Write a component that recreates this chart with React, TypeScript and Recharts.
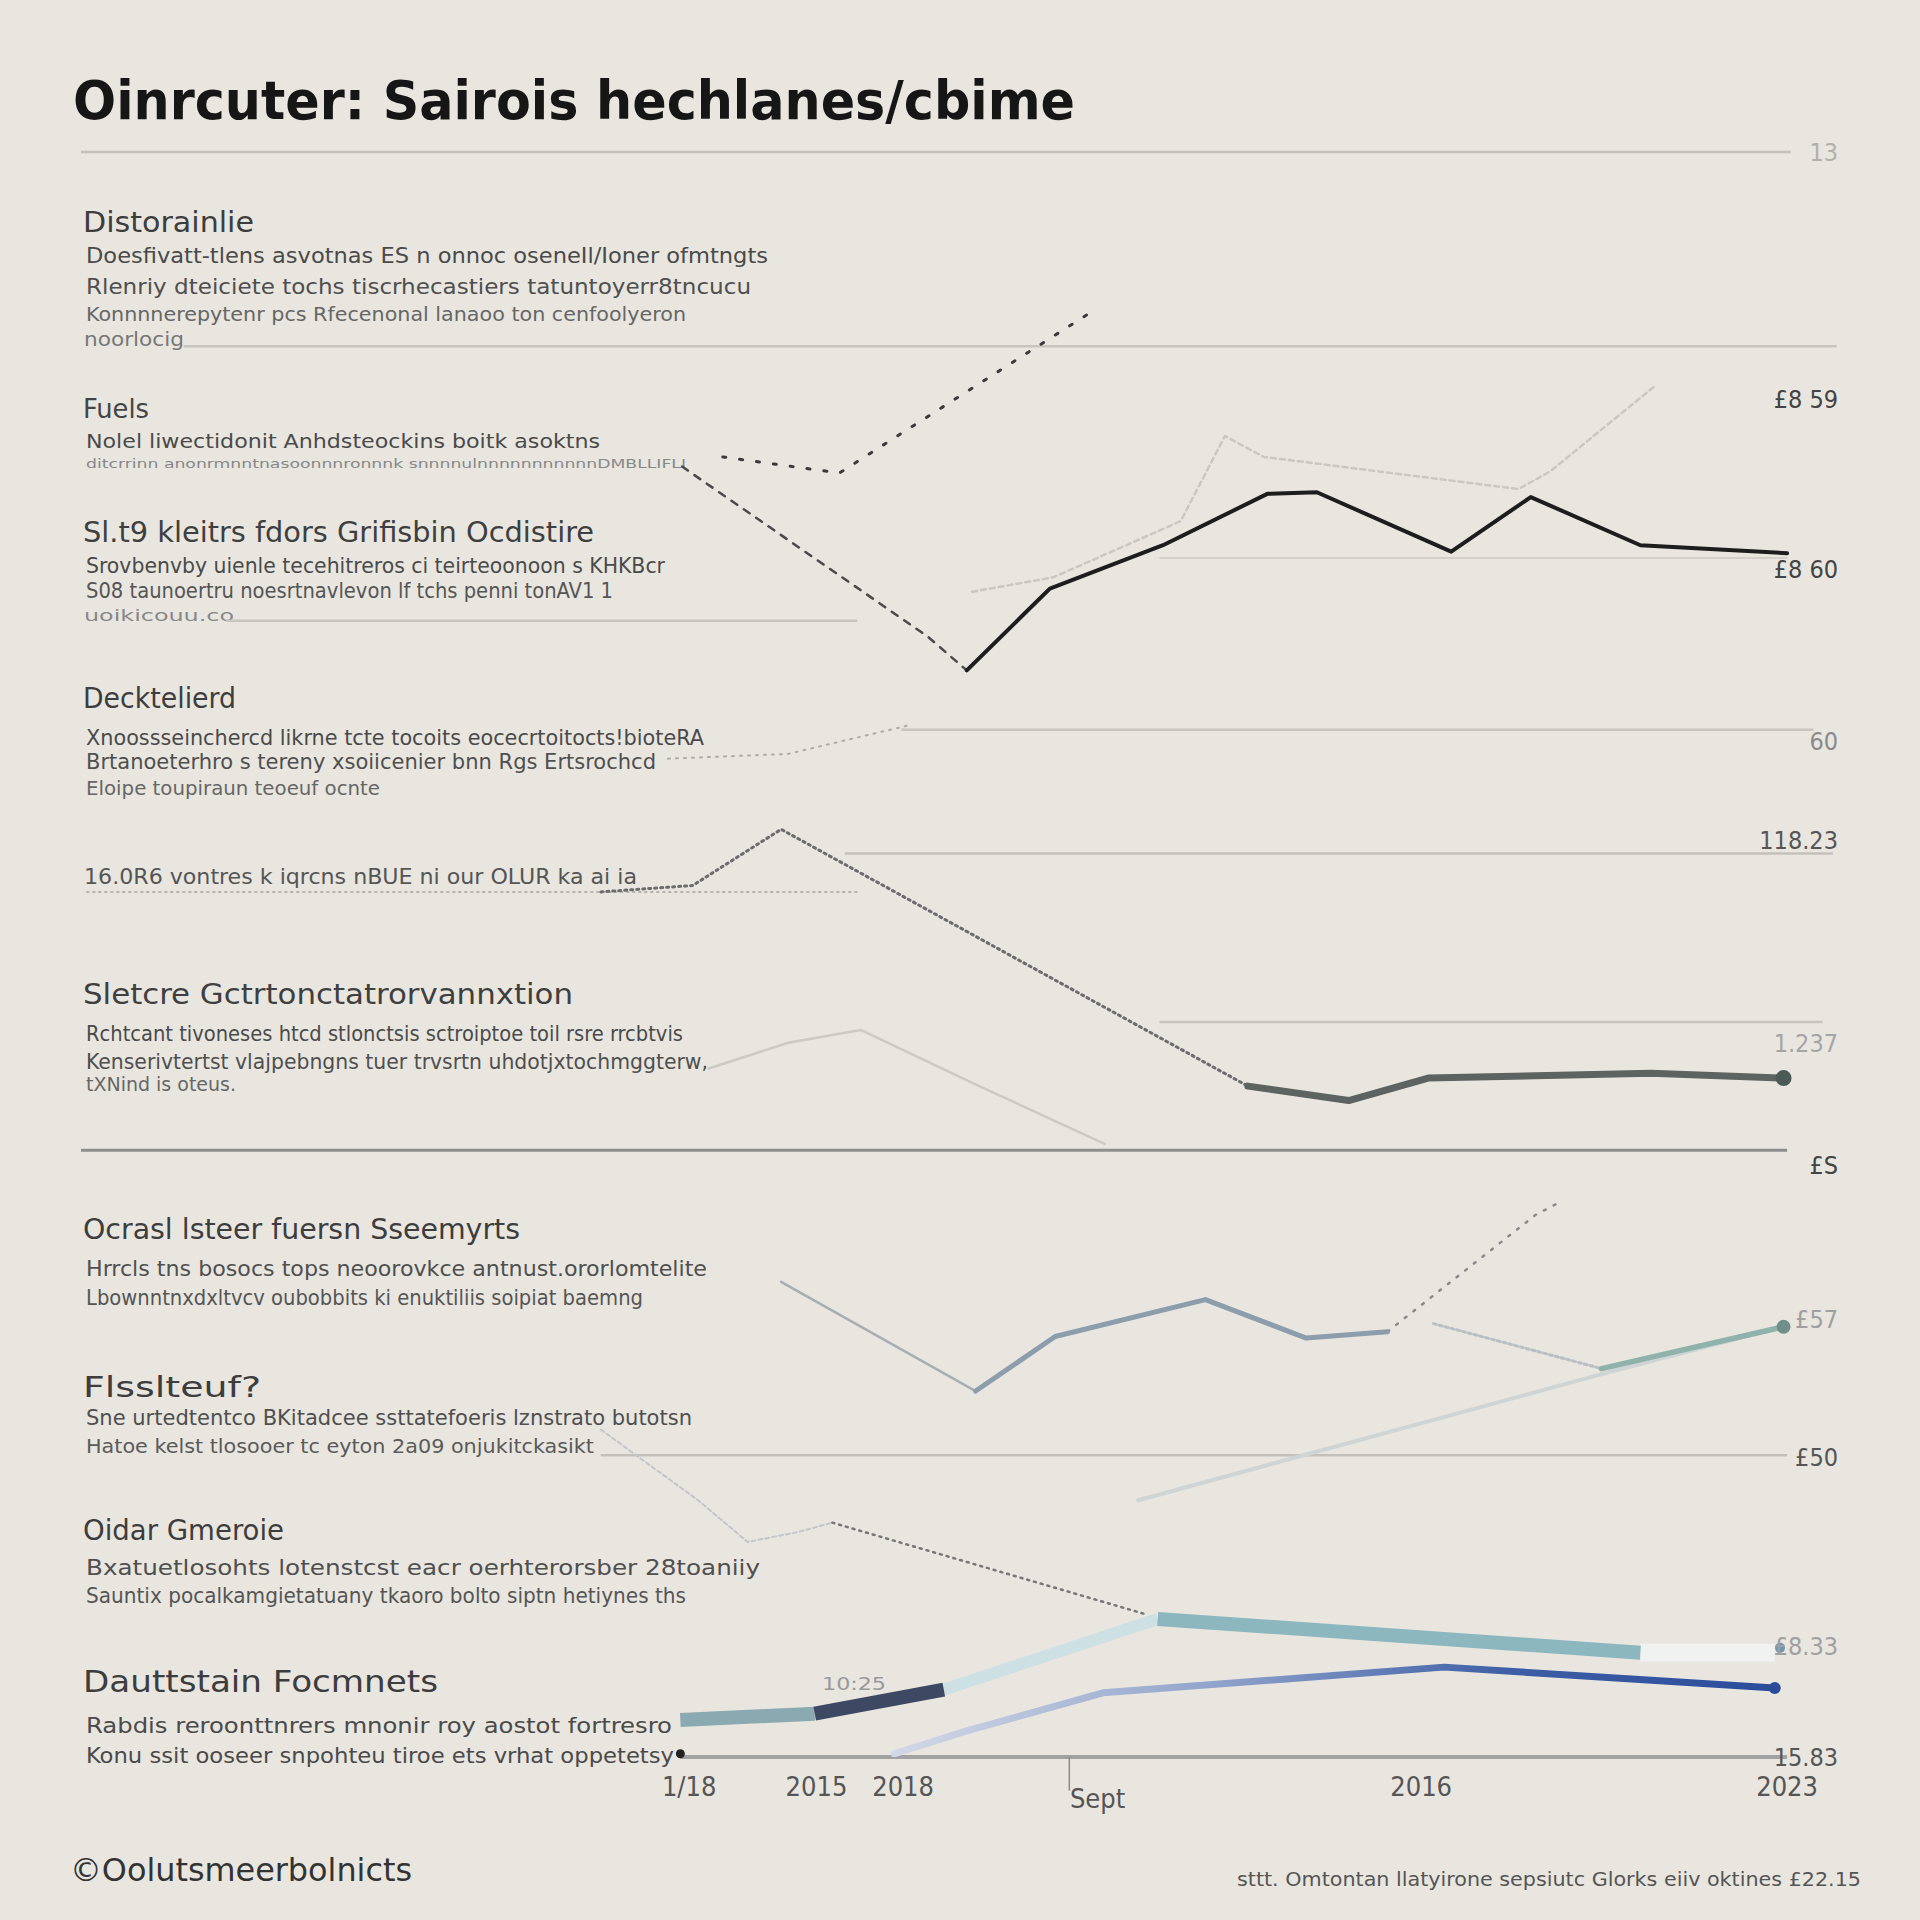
import React from 'react';
import { LineChart, Line, XAxis, YAxis, ReferenceLine, ReferenceDot } from 'recharts';

// ---------- data ----------
const xTickValues = [34.4, 41.6, 46.5, 57.5, 75.8, 96.5];
const xTickLabels = ['1/18', '2015', '2018', 'Sept', '2016', '2023'];

const yTickValues = [100, 84.6, 74.0, 63.3, 57.1, 44.5, 36.9, 27.3, 18.7, 6.9, 0];
const yTickLabels = ['13', '£8 59', '£8 60', '60', '118.23', '1.237', '£S', '£57', '£50', '£8.33', '15.83'];

const gridValues = [100, 87.9, 74.7, 70.8, 64.0, 56.3, 53.9, 45.8, 37.8, 18.8, 0];
const gridStart = [0, 5.8, 61.0, 8.2, 46.4, 43.2, 0.3, 61.0, 0, 29.4, 33.9];
const gridEnd = [96.7, 99.3, 96.5, 43.9, 98.0, 99.1, 44.0, 98.5, 96.5, 96.5, 96.5];

const dashedDescent = [{ x: 34.0, y: 80.4 }, { x: 47.9, y: 69.8 }, { x: 50.1, y: 67.7 }];
const blackMain = [
  { x: 50.1, y: 67.7 }, { x: 54.8, y: 72.8 }, { x: 61.2, y: 75.5 }, { x: 67.1, y: 78.7 },
  { x: 69.9, y: 78.8 }, { x: 77.5, y: 75.1 }, { x: 82.0, y: 78.5 }, { x: 88.2, y: 75.5 }, { x: 96.5, y: 75.0 },
];
const dottedRise = [{ x: 36.3, y: 81.0 }, { x: 42.9, y: 80.0 }, { x: 57.1, y: 90.0 }];
const faintUpper = [
  { x: 50.4, y: 72.6 }, { x: 55.0, y: 73.5 }, { x: 62.2, y: 77.0 }, { x: 64.7, y: 82.3 },
  { x: 66.9, y: 81.0 }, { x: 81.3, y: 79.0 }, { x: 83.1, y: 80.1 }, { x: 89.0, y: 85.4 },
];
const faintScribble = [{ x: 33.2, y: 62.2 }, { x: 40.0, y: 62.5 }, { x: 46.9, y: 64.3 }];
const dottedPeak = [{ x: 29.4, y: 53.9 }, { x: 34.6, y: 54.3 }, { x: 39.6, y: 57.8 }, { x: 66.0, y: 41.8 }];
const grayMid = [{ x: 66.0, y: 41.8 }, { x: 71.7, y: 40.9 }, { x: 76.2, y: 42.3 }, { x: 88.8, y: 42.6 }, { x: 96.3, y: 42.3 }];
const faintMid = [{ x: 35.5, y: 42.9 }, { x: 40.0, y: 44.5 }, { x: 44.1, y: 45.3 }, { x: 50.8, y: 41.8 }, { x: 57.9, y: 38.2 }];
const thinGrayLow = [{ x: 39.6, y: 29.6 }, { x: 50.6, y: 22.8 }];
const blueGray = [{ x: 50.6, y: 22.8 }, { x: 55.1, y: 26.2 }, { x: 63.6, y: 28.5 }, { x: 69.3, y: 26.1 }, { x: 73.9, y: 26.5 }];
const dottedUpLow = [{ x: 73.9, y: 26.5 }, { x: 82.3, y: 33.8 }, { x: 83.7, y: 34.6 }];
const faintLow = [{ x: 76.5, y: 27.0 }, { x: 86.0, y: 24.2 }];
const tealLow = [{ x: 86.0, y: 24.2 }, { x: 96.3, y: 26.8 }];
const faintLong = [{ x: 59.8, y: 16.0 }, { x: 86.5, y: 24.0 }, { x: 96.3, y: 26.8 }];
const faintCurve = [{ x: 29.4, y: 20.4 }, { x: 34.9, y: 16.0 }, { x: 37.7, y: 13.4 }, { x: 40.5, y: 14.0 }, { x: 42.5, y: 14.6 }];
const dottedDescLow = [{ x: 42.5, y: 14.6 }, { x: 60.2, y: 8.9 }];
const band1 = [{ x: 33.9, y: 2.3 }, { x: 41.5, y: 2.7 }];
const band2 = [{ x: 41.5, y: 2.7 }, { x: 48.8, y: 4.2 }];
const band3 = [{ x: 48.8, y: 4.2 }, { x: 60.9, y: 8.6 }];
const band4 = [{ x: 60.9, y: 8.6 }, { x: 88.2, y: 6.5 }];
const band5 = [{ x: 88.2, y: 6.5 }, { x: 95.8, y: 6.5 }];
const blueLine = [{ x: 46.0, y: 0.2 }, { x: 50.0, y: 1.6 }, { x: 57.8, y: 4.0 }, { x: 77.1, y: 5.6 }, { x: 95.8, y: 4.3 }];

const textLines = [
  'Oinrcuter: Sairois hechlanes/cbime',
  'Distorainlie',
  'Doesfivatt-tlens asvotnas ES n onnoc oseneIl/Ioner ofmtngts',
  'Rlenriy dteiciete tochs tiscrhecastiers tatuntoyerr8tncucu',
  'Konnnnerepytenr pcs Rfecenonal lanaoo ton cenfoolyeron',
  'noorlocig',
  'Fuels',
  'Nolel liwectidonit Anhdsteockins boitk asoktns',
  'ditcrrinn anonrmnntnasoonnnronnnk snnnnulnnnnnnnnnnnDMBLLIFLI',
  'Sl.t9 kleitrs fdors Grifisbin Ocdistire',
  'Srovbenvby uienle tecehitreros ci teirteoonoon s KHKBcr',
  'S08 taunoertru noesrtnavlevon lf tchs penni tonAV1 1',
  'uoikicouu.co',
  'Decktelierd',
  'Xnoossseinchercd likrne tcte tocoits eocecrtoitocts!bioteRA',
  'Brtanoeterhro s tereny xsoiicenier bnn Rgs Ertsrochcd',
  'Eloipe toupiraun teoeuf ocnte',
  '16.0R6 vontres k iqrcns nBUE ni our OLUR ka ai ia',
  'Sletcre Gctrtonctatrorvannxtion',
  'Rchtcant tivoneses htcd stlonctsis sctroiptoe toil rsre rrcbtvis',
  'Kenserivtertst vlajpebngns tuer trvsrtn uhdotjxtochmggterw,',
  'tXNind is  oteus.',
  'Ocrasl lsteer fuersn Sseemyrts',
  'Hrrcls tns bosocs tops neoorovkce antnust.ororlomtelite',
  'Lbownntnxdxltvcv oubobbits ki enuktiliis soipiat baemng',
  'Flsslteuf?',
  'Sne urtedtentco  BKitadcee ssttatefoeris lznstrato butotsn',
  'Hatoe kelst tlosooer tc eyton 2a09 onjukitckasikt',
  'Oidar Gmeroie',
  'Bxatuetlosohts  lotenstcst  eacr oerhterorsber  28toaniiy',
  'Sauntix pocalkamgietatuany tkaoro bolto siptn hetiynes ths',
  'Dauttstain Focmnets',
  'Rabdis reroonttnrers  mnonir roy aostot fortresro',
  'Konu ssit ooseer snpohteu tiroe ets vrhat oppetetsy',
  '©Oolutsmeerbolnicts',
  'sttt. Omtontan llatyirone sepsiutc Glorks eiiv oktines £22.15',
  '10:25',
];

// ---------- layout & style (not data) ----------
// [x, baseline, width, fontSize, color, weight]
const textLayout: [number, number, number, number, string, number][] = [
  [73, 119, 1002, 54, '#161616', 800],
  [83, 232, 171, 29, '#3d3d3d', 400],
  [86, 263, 682, 22, '#4a4a4a', 400],
  [86, 294, 665, 22, '#4f4f4f', 400],
  [86, 321, 600, 20, '#666', 400],
  [84, 346, 100, 19, '#777', 400],
  [83, 418, 66, 27, '#444', 400],
  [86, 448, 514, 20, '#4a4a4a', 400],
  [86, 468, 600, 12, '#888', 400],
  [83, 542, 511, 28, '#3f3f3f', 400],
  [86, 573, 579, 22, '#4a4a4a', 400],
  [86, 598, 527, 21, '#555', 400],
  [84, 621, 150, 16, '#888', 400],
  [83, 708, 153, 29, '#3d3d3d', 400],
  [86, 745, 618, 22, '#4a4a4a', 400],
  [86, 769, 570, 22, '#4f4f4f', 400],
  [86, 795, 294, 20, '#666', 400],
  [84, 884, 553, 22, '#555', 400],
  [83, 1004, 490, 28, '#3f3f3f', 400],
  [86, 1041, 597, 22, '#4a4a4a', 400],
  [86, 1069, 622, 22, '#4f4f4f', 400],
  [86, 1091, 150, 20, '#666', 400],
  [83, 1239, 437, 29, '#3d3d3d', 400],
  [86, 1276, 621, 22, '#4f4f4f', 400],
  [86, 1305, 557, 22, '#555', 400],
  [83, 1397, 178, 29, '#3d3d3d', 400],
  [86, 1425, 606, 22, '#4f4f4f', 400],
  [86, 1453, 508, 20, '#5a5a5a', 400],
  [83, 1540, 201, 29, '#3d3d3d', 400],
  [86, 1575, 674, 22, '#4f4f4f', 400],
  [86, 1603, 600, 22, '#555', 400],
  [83, 1692, 355, 30, '#3d3d3d', 400],
  [86, 1733, 586, 22, '#4a4a4a', 400],
  [86, 1763, 588, 22, '#4a4a4a', 400],
  [70, 1881, 342, 32, '#333', 400],
  [1237, 1886, 624, 20, '#555', 400],
  [822, 1690, 64, 17, '#999', 400],
];

const gridStyle = [
  { c: '#c4c1bb', w: 2.5, d: undefined },
  { c: '#c8c5bf', w: 2.5, d: undefined },
  { c: '#d3d0ca', w: 2, d: undefined },
  { c: '#c8c5bf', w: 2.5, d: undefined },
  { c: '#c8c5bf', w: 2.5, d: undefined },
  { c: '#c4c1bb', w: 2.5, d: undefined },
  { c: '#b5b2ad', w: 2, d: '3 3' },
  { c: '#c8c5bf', w: 2.5, d: undefined },
  { c: '#8e8e8e', w: 3, d: undefined },
  { c: '#c4c1bb', w: 2.5, d: undefined },
  { c: '#a2a2a2', w: 4, d: undefined },
];

const series = [
  { data: faintUpper, c: '#cbc8c2', w: 2.5, d: '5 4' },
  { data: faintScribble, c: '#b0ada8', w: 2, d: '2 6' },
  { data: faintMid, c: '#cdcac4', w: 2.5, d: undefined },
  { data: faintLong, c: '#cfd5d4', w: 4, d: undefined },
  { data: faintCurve, c: '#c3c6c9', w: 2, d: '4 3' },
  { data: dashedDescent, c: '#4a4a4a', w: 2.5, d: '7 8' },
  { data: dottedRise, c: '#3a3a3a', w: 3, d: '3 14' },
  { data: dottedPeak, c: '#6c6c6c', w: 3, d: '2 4' },
  { data: dottedDescLow, c: '#777', w: 2.5, d: '2 5' },
  { data: dottedUpLow, c: '#8a8a8a', w: 2.5, d: '2 9' },
  { data: thinGrayLow, c: '#a9aeb2', w: 2.5, d: undefined },
  { data: faintLow, c: '#b9bfc3', w: 3, d: '3 3' },
  { data: blackMain, c: '#1d1d1d', w: 4, d: undefined },
  { data: grayMid, c: '#5c6361', w: 7, d: undefined },
  { data: blueGray, c: '#8c9dab', w: 5, d: undefined },
  { data: tealLow, c: '#8fb3ab', w: 5.5, d: undefined },
  { data: band5, c: '#eff2f1', w: 18, d: undefined },
  { data: band3, c: '#cde0e3', w: 12, d: undefined },
  { data: band4, c: '#8cb7bf', w: 14, d: undefined },
  { data: band1, c: '#8aa9b0', w: 14, d: undefined },
  { data: band2, c: '#3d4862', w: 14, d: undefined },
  { data: blueLine, c: 'url(#blueGrad)', w: 7, d: undefined },
];

const yTickColor = ['#b3b0ab', '#444', '#444', '#8a8a8a', '#555', '#a5a5a5', '#444', '#a0a0a0', '#555', '#a0a0a0', '#555'];
const FONT = "'Liberation Sans Narrow','DejaVu Sans Condensed','Roboto Condensed','Liberation Sans',sans-serif";

const XTick = (props: any) => {
  const { x, y, payload } = props;
  const i = xTickValues.indexOf(payload.value);
  const label = xTickLabels[i] ?? '';
  return (
    <text x={x} y={y + (label === 'Sept' ? 12 : 0)} dy="0.71em" textAnchor="middle" fontSize={27}
      fontFamily={FONT} fill="#555" style={{ fontStretch: 'condensed' }}>{label}</text>
  );
};

const YTick = (props: any) => {
  const { y, payload } = props;
  const i = yTickValues.indexOf(payload.value);
  return (
    <text x={1838} y={y} dy="0.35em" textAnchor="end" fontSize={25} fontFamily={FONT}
      fill={yTickColor[i] ?? '#555'} style={{ fontStretch: 'condensed' }}>{yTickLabels[i] ?? ''}</text>
  );
};

export default function App() {
  return (
    <div style={{ position: 'absolute', left: 0, top: 0, width: 1920, height: 1920, background: '#e9e6e0', overflow: 'hidden' }}>
      <svg width={1920} height={1920} style={{ position: 'absolute', left: 0, top: 0 }}>
        {textLines.map((t, i) => {
          const [x, y, w, s, c, fw] = textLayout[i];
          return (
            <text key={i} x={x} y={y} fontSize={s} fill={c} fontWeight={fw}
              fontFamily={i === 0 ? "'DejaVu Sans','Liberation Sans',sans-serif" : FONT}
              textLength={w} lengthAdjust="spacingAndGlyphs">{t}</text>
          );
        })}
      </svg>
      <div style={{ position: 'absolute', left: 0, top: 0 }}>
        <LineChart width={1920} height={1920} margin={{ top: 152, right: 71, bottom: 103, left: 81 }}>
          <defs>
            <linearGradient id="blueGrad" x1="0" y1="0" x2="1" y2="0">
              <stop offset="0%" stopColor="#d2d8e6" />
              <stop offset="35%" stopColor="#93a6cc" />
              <stop offset="70%" stopColor="#3e5fa5" />
              <stop offset="100%" stopColor="#2b4c99" />
            </linearGradient>
          </defs>
          <XAxis type="number" dataKey="x" domain={[0, 100]} allowDataOverflow ticks={xTickValues}
            tick={<XTick />} axisLine={false} tickLine={false} tickSize={0} tickMargin={20} height={60} interval={0} />
          <YAxis type="number" dataKey="y" orientation="right" mirror domain={[0, 100]} allowDataOverflow
            ticks={yTickValues} tick={<YTick />} axisLine={false} tickLine={false} interval={0} />
          {gridValues.map((v, i) => (
            <ReferenceLine key={'g' + i} segment={[{ x: gridStart[i], y: v }, { x: gridEnd[i], y: v }]}
              stroke={gridStyle[i].c} strokeWidth={gridStyle[i].w} strokeDasharray={gridStyle[i].d} ifOverflow="visible" />
          ))}
          <ReferenceLine segment={[{ x: xTickValues[3] - 1.6, y: 0 }, { x: xTickValues[3] - 1.6, y: -2.1 }]}
            stroke="#8a8a8a" strokeWidth={1.5} ifOverflow="visible" />
          {series.map((s, i) => (
            <Line key={'s' + i} data={s.data} dataKey="y" type="linear" stroke={s.c} strokeWidth={s.w}
              strokeDasharray={s.d} dot={false} activeDot={false} isAnimationActive={false}
              strokeLinecap={s.w >= 12 ? 'butt' : 'round'} strokeLinejoin="round" />
          ))}
          <ReferenceDot x={grayMid[grayMid.length - 1].x} y={grayMid[grayMid.length - 1].y} r={8} fill="#4c5a57" stroke="none" ifOverflow="visible" />
          <ReferenceDot x={tealLow[tealLow.length - 1].x} y={tealLow[tealLow.length - 1].y} r={7} fill="#6f8f88" stroke="none" ifOverflow="visible" />
          <ReferenceDot x={blueLine[blueLine.length - 1].x} y={blueLine[blueLine.length - 1].y} r={6} fill="#2b4c99" stroke="none" ifOverflow="visible" />
          <ReferenceDot x={band5[band5.length - 1].x + 0.3} y={band5[band5.length - 1].y + 0.3} r={5} fill="#6e97ad" stroke="none" ifOverflow="visible" />
          <ReferenceDot x={band1[0].x} y={0.2} r={4.5} fill="#222" stroke="none" ifOverflow="visible" />
        </LineChart>
      </div>
    </div>
  );
}
